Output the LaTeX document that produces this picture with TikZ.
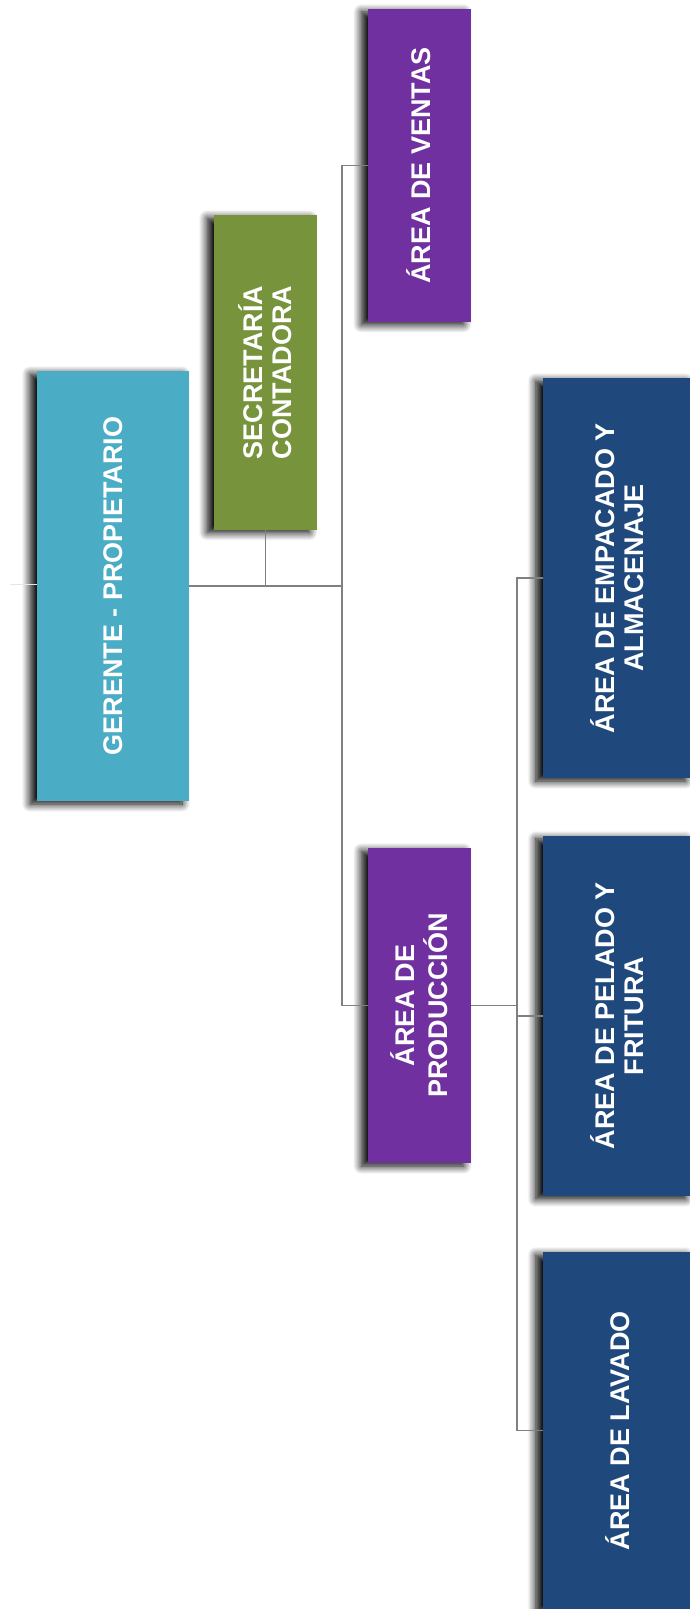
\documentclass[tikz,border=0pt]{standalone}
\usepackage{fontspec}
\setmainfont{Liberation Sans}
\usetikzlibrary{shadows.blur}

\definecolor{gerenteBlue}{RGB}{75,172,198}
\definecolor{secGreen}{RGB}{119,147,60}
\definecolor{areaPurple}{RGB}{112,48,160}
\definecolor{areaNavy}{RGB}{31,73,125}
\definecolor{lineGray}{RGB}{128,128,128}

% text standing upright in the boxes (nudged so the capitals sit centred)
\newcommand{\vlabel}[1]{\hspace*{7.7pt}\rotatebox{90}{\begin{tabular}{@{}c@{}}#1\end{tabular}}}

\begin{document}
\begin{tikzpicture}[x=1pt, y=-1pt,
    orgbox/.style={draw=none, inner sep=0pt, text=white,
        font=\bfseries\fontsize{27}{29}\selectfont,
        blur shadow={shadow xshift=-7pt, shadow yshift=-3pt,
            shadow blur radius=8pt, shadow blur steps=10, shadow opacity=100}},
    conn/.style={draw=lineGray, line width=1.6pt}]

    \useasboundingbox (0,0) rectangle (689,1609);

    % Box sizes (px of the page)
    \def\smallW{102.5}
    \def\sideW{150}

    % Top of the chart
    \node[orgbox, fill=gerenteBlue, minimum width=152pt, minimum height=430pt]
        (ger) at (113,586) {\vlabel{GERENTE - PROPIETARIO}};
    \node[orgbox, fill=secGreen, minimum width=\smallW pt, minimum height=314.5pt]
        (sec) at (265.3,372.3) {\vlabel{SECRETARÍA\\CONTADORA}};

    % Areas
    \node[orgbox, fill=areaPurple, minimum width=\smallW pt, minimum height=312.7pt]
        (ven) at (419.5,165.3) {\vlabel{ÁREA DE VENTAS}};
    \node[orgbox, fill=areaPurple, minimum width=\smallW pt, minimum height=315pt]
        (pro) at (419.5,1005.5) {\vlabel{ÁREA DE\\PRODUCCIÓN}};

    % Production sub-areas
    \node[orgbox, fill=areaNavy, minimum width=\sideW pt, minimum height=400pt]
        (emp) at (617.7,578) {\vlabel{ÁREA DE EMPACADO Y\\ALMACENAJE}};
    \node[orgbox, fill=areaNavy, minimum width=\sideW pt, minimum height=360pt]
        (pel) at (617.7,1015.9) {\vlabel{ÁREA DE PELADO Y\\FRITURA}};
    \node[orgbox, fill=areaNavy, minimum width=\sideW pt, minimum height=357pt]
        (lav) at (617.7,1430.5) {\vlabel{ÁREA DE LAVADO}};

    % Junctions
    \coordinate (edge) at (10,584);
    \coordinate (trunkA) at (341.7,586);
    \coordinate (trunkB) at (516.7,1005.5);

    % Connectors
    \draw[conn, draw=lineGray!20, line width=1pt] (edge) -- (edge -| ger.west);
    \draw[conn] (ger.east) -- (trunkA);
    \draw[conn] (sec.south) -- (sec.south |- trunkA);
    \draw[conn] (ven.west) -| (trunkA);
    \draw[conn] (pro.west) -| (trunkA);
    \draw[conn] (pro.east) -- (trunkB);
    \draw[conn] (emp.west) -| (trunkB);
    \draw[conn] (pel.west) -| (trunkB);
    \draw[conn] (lav.west) -| (trunkB);

\end{tikzpicture}
\end{document}
